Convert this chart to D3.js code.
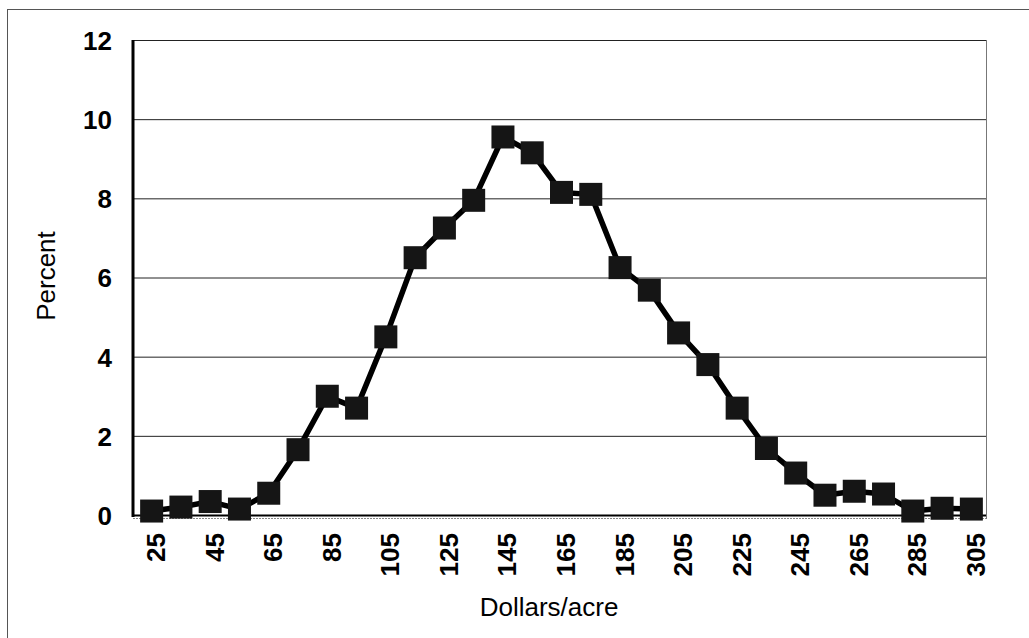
<!DOCTYPE html>
<html>
<head>
<meta charset="utf-8">
<script src="https://cdn.jsdelivr.net/npm/d3@7"></script>
<style>
  body { margin: 0; background: #fff; }
  text { font-family: Arial, "Liberation Sans", sans-serif; fill: #000; }
</style>
</head>
<body>
<script>
// dollars/acre classes and percent of observations
var dollars = [25, 35, 45, 55, 65, 75, 85, 95, 105, 115, 125, 135, 145, 155, 165,
               175, 185, 195, 205, 215, 225, 235, 245, 255, 265, 275, 285, 295, 305];
var percent = [0.1, 0.2, 0.34, 0.15, 0.55, 1.65, 3.0, 2.7, 4.5, 6.5, 7.25, 7.95, 9.55, 9.15, 8.15,
               8.1, 6.25, 5.68, 4.6, 3.8, 2.7, 1.68, 1.06, 0.5, 0.6, 0.53, 0.1, 0.17, 0.15];
var yTicks = [0, 2, 4, 6, 8, 10, 12];

var width = 1029, height = 638;
var plotLeft = 137, plotRight = 986, plotTop = 40, plotBottom = 515;

var svg = d3.select("body").append("svg")
  .attr("width", width)
  .attr("height", height);

// outer frame
svg.append("rect")
  .attr("x", 7.5).attr("y", 9.5)
  .attr("width", 1040).attr("height", 650)
  .attr("fill", "none")
  .attr("stroke", "#555")
  .attr("stroke-width", 1);

var x = d3.scalePoint()
  .domain(dollars)
  .range([plotLeft, plotRight])
  .padding(0.5);

var y = d3.scaleLinear()
  .domain([0, 12])
  .range([plotBottom, plotTop]);

// gridlines
svg.append("g")
  .selectAll("line")
  .data(yTicks.filter(function(d) { return d > 0; }))
  .enter()
  .append("line")
  .attr("x1", 133).attr("x2", plotRight)
  .attr("y1", function(d) { return y(d) + 0.5; })
  .attr("y2", function(d) { return y(d) + 0.5; })
  .attr("stroke", "#222")
  .attr("stroke-width", 1);

// right border of plot
svg.append("line")
  .attr("x1", plotRight + 0.5).attr("x2", plotRight + 0.5)
  .attr("y1", plotTop).attr("y2", plotBottom + 4)
  .attr("stroke", "#777")
  .attr("stroke-width", 1);

// bottom axis line + dotted under-line
svg.append("line")
  .attr("x1", 133).attr("x2", plotRight)
  .attr("y1", plotBottom + 0.5).attr("y2", plotBottom + 0.5)
  .attr("stroke", "#000").attr("stroke-width", 2);
svg.append("line")
  .attr("x1", 133).attr("x2", plotRight)
  .attr("y1", plotBottom + 3.5).attr("y2", plotBottom + 3.5)
  .attr("stroke", "#888").attr("stroke-width", 1)
  .attr("stroke-dasharray", "2,1");

// y axis
var yAxis = d3.axisLeft(y).tickValues(yTicks).tickSize(0).tickPadding(21);
var gy = svg.append("g")
  .attr("transform", "translate(133,0)")
  .call(yAxis);
gy.select(".domain")
  .attr("stroke", "#000")
  .attr("stroke-width", 3)
  .attr("d", "M0," + plotTop + "V" + (plotBottom + 2));
gy.selectAll("text")
  .style("font-size", "26px")
  .style("font-weight", "bold")
  .attr("dy", "0.36em");

// x axis
var xAxis = d3.axisBottom(x)
  .tickValues(dollars.filter(function(d, i) { return i % 2 === 0; }))
  .tickSize(0);
var gx = svg.append("g")
  .attr("transform", "translate(0," + plotBottom + ")")
  .call(xAxis);
gx.select(".domain").remove();
gx.selectAll("text")
  .style("font-size", "26px")
  .style("font-weight", "bold")
  .attr("text-anchor", "end")
  .attr("transform", "rotate(-90)")
  .attr("x", -18)
  .attr("y", 0)
  .attr("dx", 0)
  .attr("dy", "0.5em");

// line
var line = d3.line()
  .x(function(d, i) { return x(dollars[i]); })
  .y(function(d) { return y(d); });

svg.append("path")
  .datum(percent)
  .attr("d", line)
  .attr("fill", "none")
  .attr("stroke", "#000")
  .attr("stroke-width", 5.5)
  .attr("stroke-linejoin", "round");

// square markers
var m = 23;
svg.append("g")
  .selectAll("rect")
  .data(percent)
  .enter()
  .append("rect")
  .attr("x", function(d, i) { return x(dollars[i]) - m / 2; })
  .attr("y", function(d) { return y(d) - m / 2; })
  .attr("width", m)
  .attr("height", m)
  .attr("fill", "#151515");

// axis titles
svg.append("text")
  .attr("x", 549).attr("y", 616)
  .attr("text-anchor", "middle")
  .style("font-size", "26px")
  .text("Dollars/acre");

svg.append("text")
  .attr("transform", "translate(55,276) rotate(-90)")
  .attr("text-anchor", "middle")
  .style("font-size", "26px")
  .text("Percent");
</script>
</body>
</html>
